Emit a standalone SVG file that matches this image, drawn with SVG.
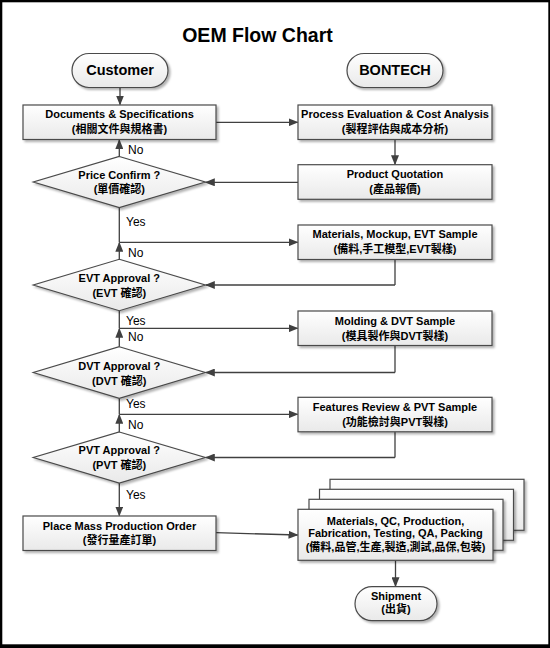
<svg xmlns="http://www.w3.org/2000/svg" width="550" height="648" viewBox="0 0 550 648">
<style>
.t{font-family:"Liberation Sans","Noto Sans CJK TC",Arial,sans-serif;font-weight:bold;font-size:11px;fill:#000;text-anchor:middle}
.lbl{font-family:"Liberation Sans",Arial,sans-serif;font-size:12px;fill:#000}
.box{fill:url(#g);stroke:#4a4a4a;stroke-width:1.2}
.dia{fill:url(#g);stroke:#4a4a4a;stroke-width:1.2}
.term{fill:url(#g);stroke:#4a4a4a;stroke-width:1.2}
.ln{fill:none;stroke:#404040;stroke-width:1.3}
.arr{fill:none;stroke:#404040;stroke-width:1.3;marker-end:url(#ah)}
</style>
<defs>
<linearGradient id="g" x1="0" y1="0" x2="0" y2="1">
<stop offset="0" stop-color="#ffffff"/>
<stop offset="1" stop-color="#e9e9e9"/>
</linearGradient>
<filter id="sh" x="-10%" y="-20%" width="130%" height="150%">
<feDropShadow dx="2" dy="2" stdDeviation="1" flood-color="#000" flood-opacity="0.3"/>
</filter>
<marker id="ah" markerWidth="10" markerHeight="8" refX="9" refY="4" orient="auto" markerUnits="userSpaceOnUse">
<path d="M0,0 L10,4 L0,8 Z" fill="#404040"/>
</marker>
</defs>
<rect x="0" y="0" width="550" height="648" fill="#000"/>
<rect x="2.3" y="2.3" width="546" height="642" fill="#fff"/>
<text x="257.5" y="42" style="font-family:'Liberation Sans',Arial,sans-serif;font-weight:bold;font-size:19.5px;text-anchor:middle">OEM Flow Chart</text>

<g id="connectors">
<path class="arr" d="M120,87.5 V104.5"/>
<path class="arr" d="M216,122.3 H297.5"/>
<path class="arr" d="M395,139.5 V164.2"/>
<path class="arr" d="M298,182.3 H205.8"/>
<path class="arr" d="M119.3,156.5 V140"/>
<path class="ln" d="M119.3,207.5 V242.3"/>
<path class="arr" d="M119.3,242.3 H297.5"/>
<path class="ln" d="M395,259.5 V285"/>
<path class="arr" d="M395,285 H205.8"/>
<path class="arr" d="M119.3,259.3 V242.8"/>
<path class="ln" d="M119.3,310.7 V328.3"/>
<path class="arr" d="M119.3,328.3 H297.5"/>
<path class="ln" d="M395,345.5 V372.5"/>
<path class="arr" d="M395,372.5 H205.8"/>
<path class="arr" d="M119.3,346.7 V328.8"/>
<path class="ln" d="M119.3,398.3 V414.3"/>
<path class="arr" d="M119.3,414.3 H297.5"/>
<path class="ln" d="M395,431.8 V457.5"/>
<path class="arr" d="M395,457.5 H205.8"/>
<path class="arr" d="M119.3,432 V414.8"/>
<path class="arr" d="M119.3,483 V515.5"/>
<path class="arr" d="M216,532.7 L297.5,535"/>
<path class="arr" d="M395.5,560.3 V586.2"/>
<text class="lbl" x="128" y="153.5">No</text>
<text class="lbl" x="126" y="226">Yes</text>
<text class="lbl" x="128" y="256.7">No</text>
<text class="lbl" x="126" y="325">Yes</text>
<text class="lbl" x="128" y="341">No</text>
<text class="lbl" x="126" y="407.7">Yes</text>
<text class="lbl" x="128" y="428.5">No</text>
<text class="lbl" x="126" y="499">Yes</text>
</g>

<g id="customer">
<rect class="term" x="72" y="53.5" width="96" height="34" rx="17" filter="url(#sh)"/>
<text class="t" x="120" y="75.2" style="font-size:14.5px">Customer</text>
</g>
<g id="bontech">
<rect class="term" x="347" y="53.5" width="96" height="34" rx="17" filter="url(#sh)"/>
<text class="t" x="395" y="75.2" style="font-size:14.5px">BONTECH</text>
</g>
<g id="documents">
<rect class="box" x="23" y="105" width="193" height="34.5" filter="url(#sh)"/>
<text class="t" x="119.5" y="118.3">Documents &amp; Specifications</text>
<text class="t" x="119.5" y="133">(相關文件與規格書)</text>
</g>
<g id="process">
<rect class="box" x="298" y="105" width="194" height="34.5" filter="url(#sh)"/>
<text class="t" x="395" y="118.3">Process Evaluation &amp; Cost Analysis</text>
<text class="t" x="395" y="133">(製程評估與成本分析)</text>
</g>
<g id="quotation">
<rect class="box" x="298" y="164.7" width="194" height="34.6" filter="url(#sh)"/>
<text class="t" x="395" y="178.3">Product Quotation</text>
<text class="t" x="395" y="193">(產品報價)</text>
</g>
<g id="price">
<polygon class="dia" points="119.3,156.5 205.3,182 119.3,207.5 33.3,182" filter="url(#sh)"/>
<text class="t" x="119.3" y="178.7">Price Confirm ?</text>
<text class="t" x="119.3" y="193">(單價確認)</text>
</g>
<g id="materials">
<rect class="box" x="298" y="225" width="194" height="34.5" filter="url(#sh)"/>
<text class="t" x="395" y="238.3">Materials, Mockup, EVT Sample</text>
<text class="t" x="395" y="253">(備料,手工模型,EVT製樣)</text>
</g>
<g id="evt">
<polygon class="dia" points="119.3,259.3 205.3,285 119.3,310.7 33.3,285" filter="url(#sh)"/>
<text class="t" x="119.3" y="282">EVT Approval ?</text>
<text class="t" x="119.3" y="297.3">(EVT 確認)</text>
</g>
<g id="molding">
<rect class="box" x="298" y="311" width="194" height="34.5" filter="url(#sh)"/>
<text class="t" x="395" y="324.7">Molding &amp; DVT Sample</text>
<text class="t" x="395" y="340">(模具製作與DVT製樣)</text>
</g>
<g id="dvt">
<polygon class="dia" points="119.3,346.7 205.3,372.5 119.3,398.3 33.3,372.5" filter="url(#sh)"/>
<text class="t" x="119.3" y="369.7">DVT Approval ?</text>
<text class="t" x="119.3" y="384.7">(DVT 確認)</text>
</g>
<g id="features">
<rect class="box" x="298" y="397.3" width="194" height="34.5" filter="url(#sh)"/>
<text class="t" x="395" y="410.7">Features Review &amp; PVT Sample</text>
<text class="t" x="395" y="425.7">(功能檢討與PVT製樣)</text>
</g>
<g id="pvt">
<polygon class="dia" points="119.3,432 205.3,457.5 119.3,483 33.3,457.5" filter="url(#sh)"/>
<text class="t" x="119.3" y="454">PVT Approval ?</text>
<text class="t" x="119.3" y="469">(PVT 確認)</text>
</g>
<g id="order">
<rect class="box" x="23" y="516" width="193" height="34.5" filter="url(#sh)"/>
<text class="t" x="119.5" y="529.7">Place Mass Production Order</text>
<text class="t" x="119.5" y="544">(發行量產訂單)</text>
</g>
<g id="production">
<rect class="box" x="330" y="479.3" width="194" height="51" filter="url(#sh)"/>
<rect class="box" x="319.5" y="489.3" width="194" height="51" filter="url(#sh)"/>
<rect class="box" x="309" y="499.3" width="194" height="51" filter="url(#sh)"/>
<rect class="box" x="298" y="509.3" width="195" height="51" filter="url(#sh)"/>
<text class="t" x="395.5" y="524.7">Materials, QC, Production,</text>
<text class="t" x="395.5" y="536.7">Fabrication, Testing, QA, Packing</text>
<text class="t" x="395.5" y="551.3">(備料,品管,生產,製造,測試,品保,包裝)</text>
</g>
<g id="shipment">
<rect class="term" x="355" y="586.7" width="82" height="34" rx="17" filter="url(#sh)"/>
<text class="t" x="396" y="599.7">Shipment</text>
<text class="t" x="396" y="613.3">(出貨)</text>
</g>
</svg>
